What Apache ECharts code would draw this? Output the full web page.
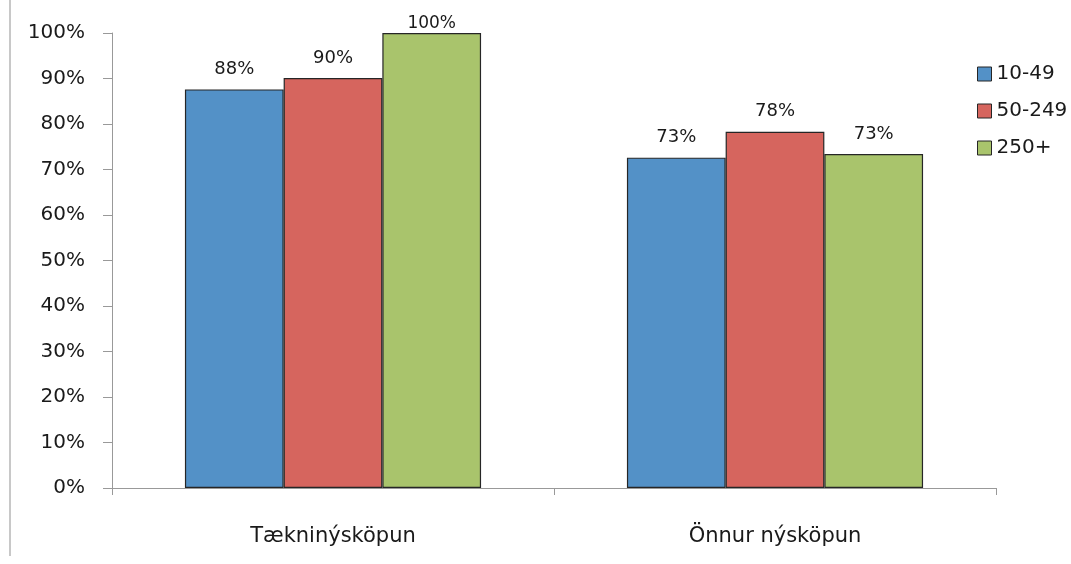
<!DOCTYPE html>
<html>
<head>
<meta charset="utf-8">
<script src="https://cdn.jsdelivr.net/npm/echarts@6/dist/echarts.min.js"></script>
<style>
  html, body { margin: 0; padding: 0; background: #fff; }
  #chart { width: 1071px; height: 564px; }
</style>
</head>
<body>
<div id="chart"></div>
<script>
// values (percent)
const categories = ["Tækninýsköpun", "Önnur nýsköpun"];
const seriesNames = ["10-49", "50-249", "250+"];
const small = [87.6, 72.6];
const medium = [90.1, 78.3];
const large = [100, 73.4];
const colors = ["#5391c7", "#d6655e", "#a9c46c"];

const FONT = "DejaVu Sans, sans-serif";
const INK = "#1a1a1a";
const chart = echarts.init(document.getElementById("chart"), null, { renderer: "canvas" });

// labels at the very top of the axis get squeezed down like the original
const withLabelFit = (data) =>
  data.map((v) => (v >= 100 ? { value: v, label: { distance: 1, fontSize: 17 } } : v));

const mkSeries = (name, data, i) => ({
  name,
  type: "bar",
  data: withLabelFit(data),
  barGap: "0%",
  barCategoryGap: "33%",
  itemStyle: { color: colors[i], borderColor: "#262626", borderWidth: 1.2 },
  label: {
    show: true,
    position: "top",
    distance: 11,
    color: INK,
    fontFamily: FONT,
    fontSize: 18,
    formatter: (p) => Math.round(p.value) + "%",
  },
});

chart.setOption({
  animation: false,
  backgroundColor: "#fff",
  textStyle: { fontFamily: FONT },
  grid: { left: 112, right: 75, top: 33, bottom: 76 },
  legend: {
    orient: "vertical",
    left: 972,
    top: 59,
    itemWidth: 14,
    itemHeight: 14,
    itemGap: 17,
    icon: "rect",
    itemStyle: { borderColor: "#262626", borderWidth: 1 },
    textStyle: { color: INK, fontSize: 20, fontFamily: FONT },
    data: seriesNames,
  },
  xAxis: {
    type: "category",
    data: categories,
    axisLine: { lineStyle: { color: "#999", width: 1 } },
    axisTick: { show: true, length: 7, lineStyle: { color: "#999" } },
    axisLabel: { color: INK, fontSize: 21, fontFamily: FONT, margin: 38 },
  },
  yAxis: {
    type: "value",
    min: 0,
    max: 100,
    interval: 10,
    splitLine: { show: false },
    axisLine: { show: true, lineStyle: { color: "#999", width: 1 } },
    axisTick: { show: true, length: 9, lineStyle: { color: "#999" } },
    axisLabel: {
      color: INK,
      fontSize: 20,
      fontFamily: FONT,
      margin: 27,
      formatter: "{value}%",
    },
  },
  graphic: [
    {
      type: "line",
      shape: { x1: 10, y1: 0, x2: 10, y2: 556 },
      style: { stroke: "#c8c8c8", lineWidth: 2 },
    },
  ],
  series: [
    mkSeries(seriesNames[0], small, 0),
    mkSeries(seriesNames[1], medium, 1),
    mkSeries(seriesNames[2], large, 2),
  ],
});
</script>
</body>
</html>
